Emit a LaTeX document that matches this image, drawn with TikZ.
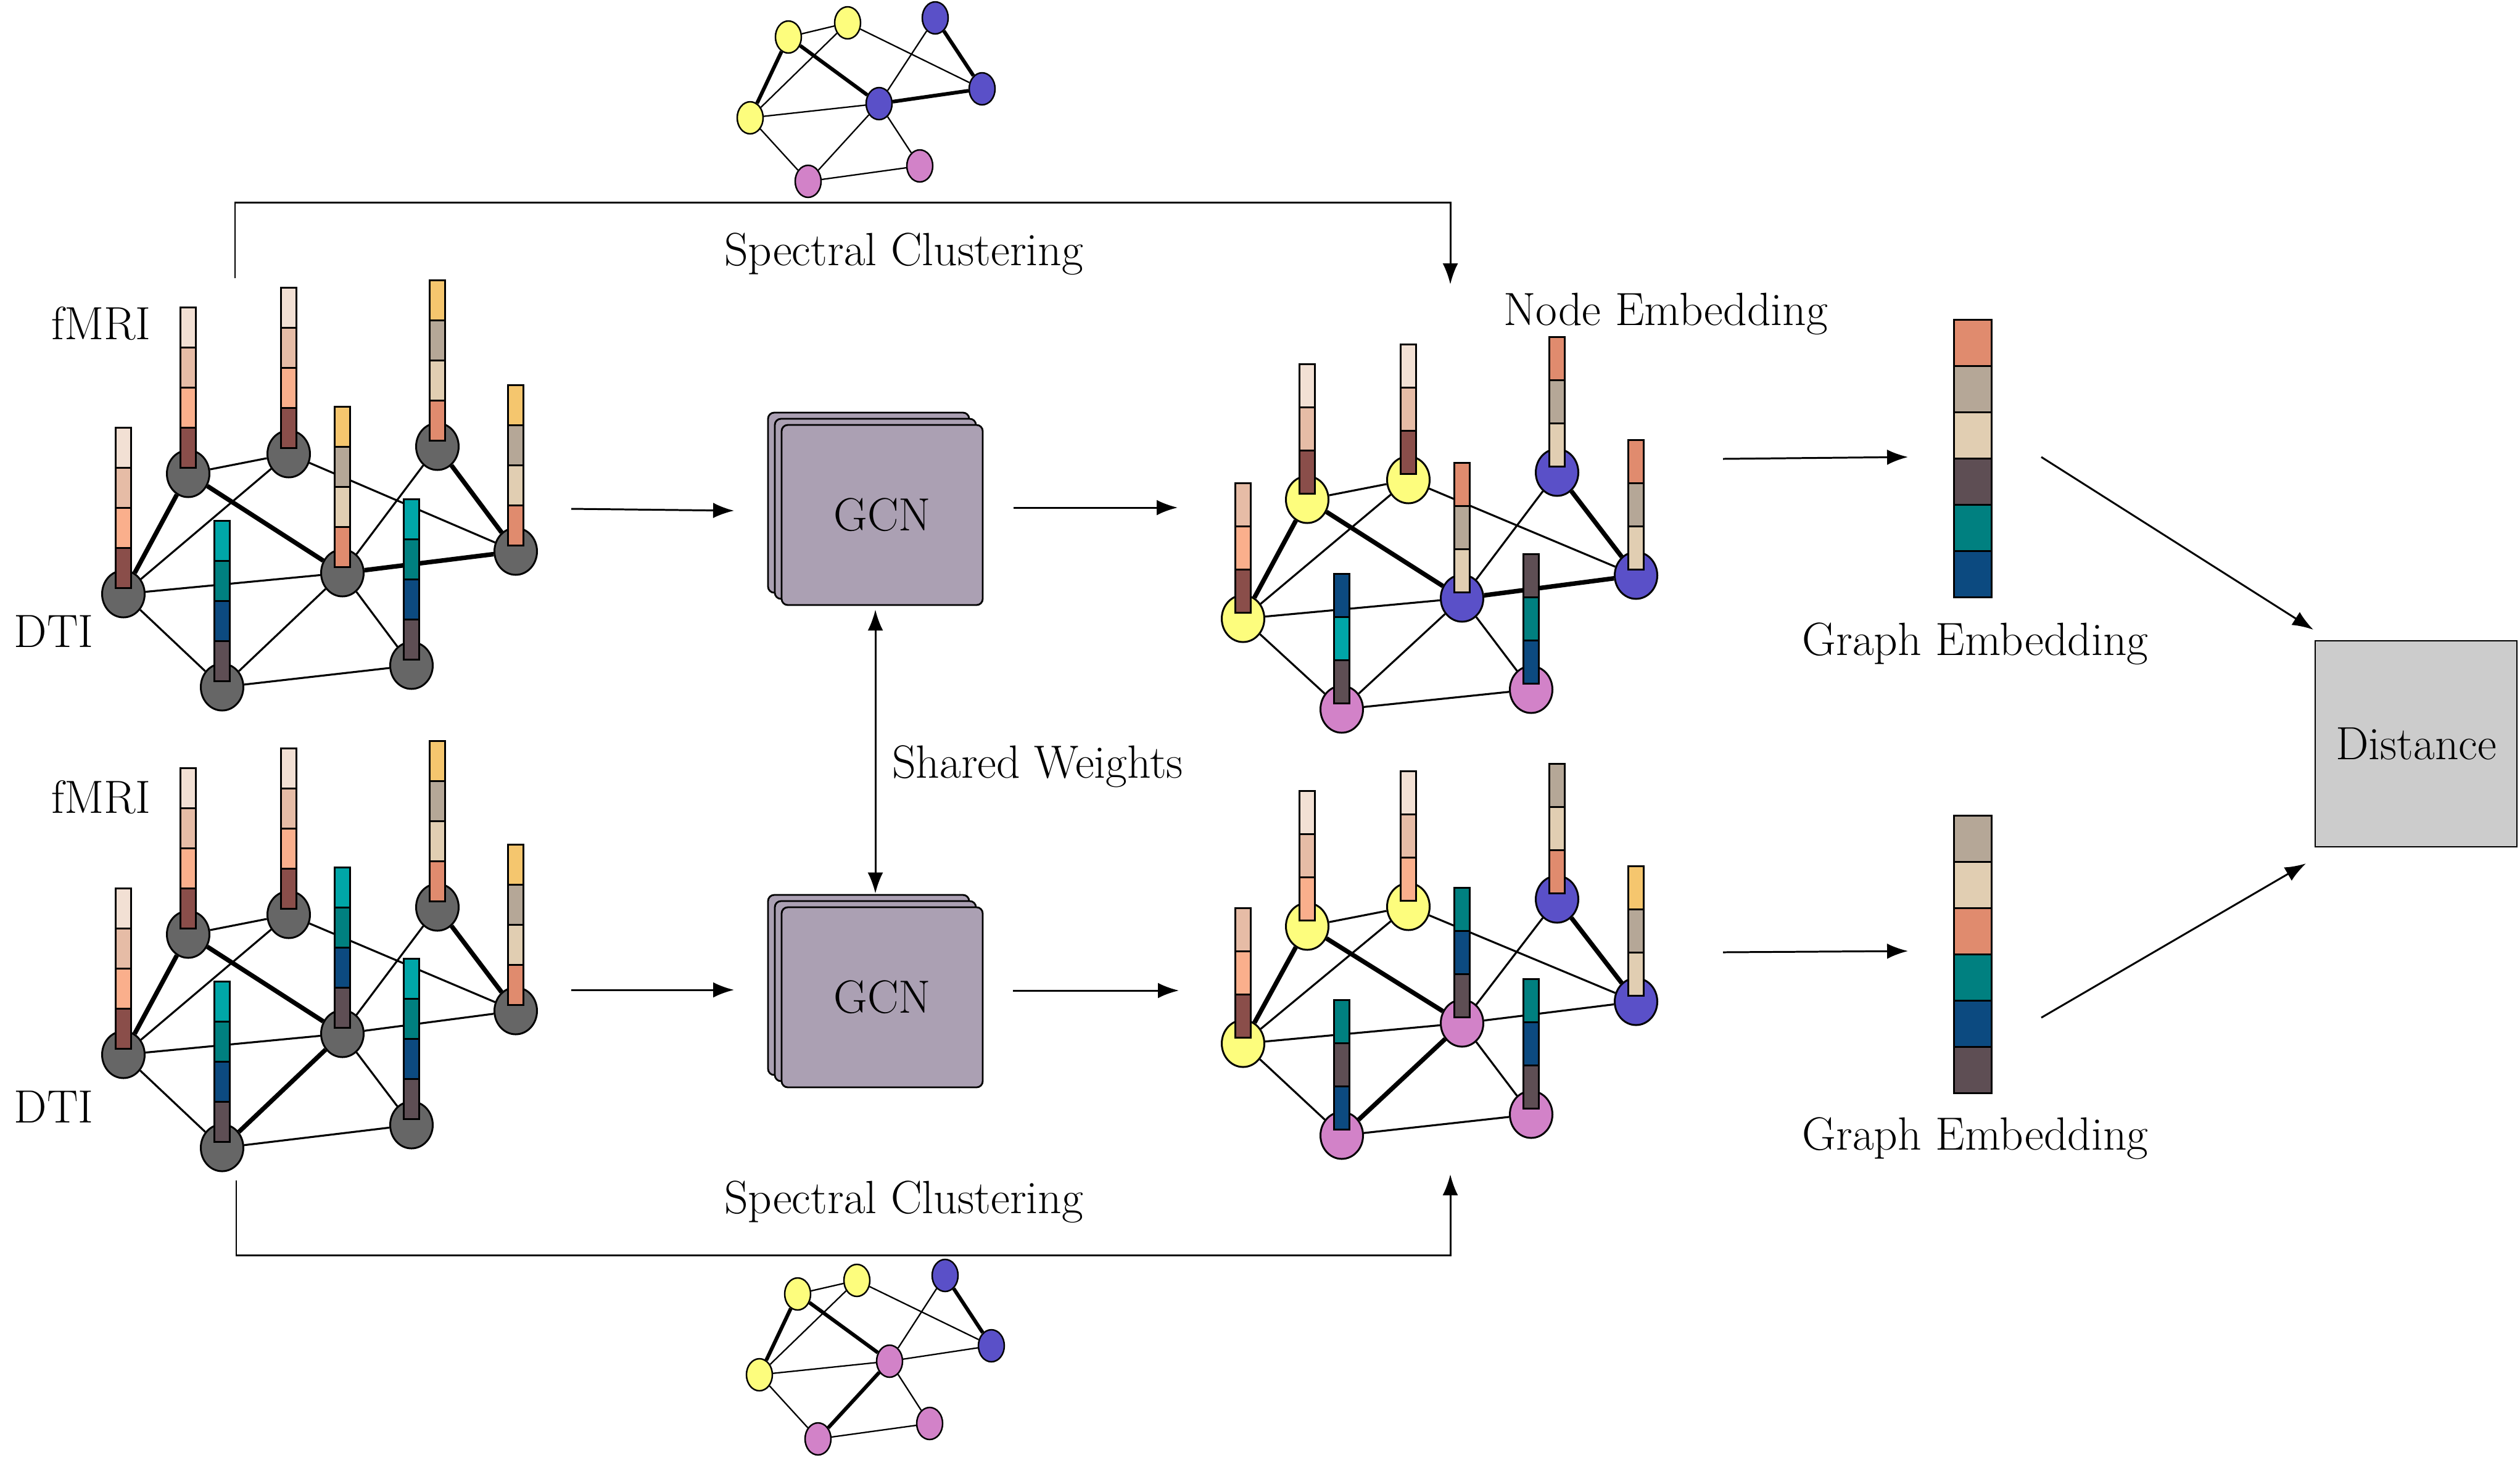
\documentclass[tikz,border=0pt]{standalone}
\usepackage{fontspec}
\usepackage{tikz}
\usetikzlibrary{positioning,arrows.meta,shapes.geometric,shadows}
\definecolor{roigray}{RGB}{102,102,102}
\definecolor{ylw}{RGB}{253,253,125}
\definecolor{blu}{RGB}{90,80,200}
\definecolor{pnk}{RGB}{210,130,200}
\definecolor{gcnfill}{RGB}{171,160,179}
\definecolor{distgray}{RGB}{204,204,204}
\definecolor{fmA}{RGB}{242,224,212}
\definecolor{fmB}{RGB}{230,188,166}
\definecolor{fmC}{RGB}{250,175,140}
\definecolor{fmD}{RGB}{138,78,74}
\definecolor{otA}{RGB}{245,198,110}
\definecolor{otB}{RGB}{181,167,151}
\definecolor{otC}{RGB}{225,206,178}
\definecolor{otD}{RGB}{224,139,110}
\definecolor{dtA}{RGB}{0,166,168}
\definecolor{dtB}{RGB}{0,128,128}
\definecolor{dtC}{RGB}{12,74,128}
\definecolor{dtD}{RGB}{94,78,84}

% feature bar standing on a node, colours listed top to bottom
\newcommand{\fourbar}[5]{%
  \draw[barseg,fill=#5] ([shift={(-0.125,0.10)}]#1.center) rectangle ++(0.25,0.65);
  \draw[barseg,fill=#4] ([shift={(-0.125,0.75)}]#1.center) rectangle ++(0.25,0.65);
  \draw[barseg,fill=#3] ([shift={(-0.125,1.40)}]#1.center) rectangle ++(0.25,0.65);
  \draw[barseg,fill=#2] ([shift={(-0.125,2.05)}]#1.center) rectangle ++(0.25,0.65);
}
\newcommand{\threebar}[4]{%
  \draw[barseg,fill=#4] ([shift={(-0.125,0.10)}]#1.center) rectangle ++(0.25,0.70);
  \draw[barseg,fill=#3] ([shift={(-0.125,0.80)}]#1.center) rectangle ++(0.25,0.70);
  \draw[barseg,fill=#2] ([shift={(-0.125,1.50)}]#1.center) rectangle ++(0.25,0.70);
}

\begin{document}
\begin{tikzpicture}[
  roi/.style={ellipse,draw,line width=0.85pt,inner sep=0pt,minimum width=0.69cm,minimum height=0.76cm},
  mini/.style={ellipse,draw,line width=0.7pt,inner sep=0pt,minimum width=0.42cm,minimum height=0.52cm},
  wlink/.style={line width=0.9pt},
  slink/.style={line width=2.1pt},
  barseg/.style={draw,line width=0.85pt},
  arr/.style={-{Latex[length=0.34cm,width=0.25cm]},line width=0.85pt},
  dblarr/.style={{Latex[length=0.34cm,width=0.25cm]}-{Latex[length=0.34cm,width=0.25cm]},line width=0.85pt},
  lbl/.style={font=\fontsize{21.5}{26}\selectfont,inner sep=0pt},
  gcn/.style={draw,line width=0.8pt,fill=gcnfill,rounded corners=0.1cm,
    minimum width=3.26cm,minimum height=2.92cm,font=\fontsize{21.5}{26}\selectfont,
    double copy shadow={shadow xshift=-0.11cm,shadow yshift=0.10cm}},
]
\useasboundingbox (0,0) rectangle (40.85,-23.63);

% input graphs
\node[roi,fill=roigray] (tlA) at (2.00,-9.63) {};
\node[roi,fill=roigray] (tlB) at (3.05,-7.68) {};
\node[roi,fill=roigray] (tlC) at (4.68,-7.36) {};
\node[roi,fill=roigray] (tlD) at (5.55,-9.29) {};
\node[roi,fill=roigray] (tlE) at (7.09,-7.24) {};
\node[roi,fill=roigray] (tlF) at (8.36,-8.94) {};
\node[roi,fill=roigray] (tlG) at (3.60,-11.14) {};
\node[roi,fill=roigray] (tlH) at (6.67,-10.79) {};
\draw[wlink] (tlA)--(tlC) (tlA)--(tlD) (tlA)--(tlG) (tlB)--(tlC) (tlC)--(tlF)
  (tlD)--(tlE) (tlD)--(tlG) (tlD)--(tlH) (tlG)--(tlH);
\draw[slink] (tlA)--(tlB) (tlB)--(tlD) (tlD)--(tlF) (tlE)--(tlF);

\node[roi,fill=roigray] (blA) at (2.00,-17.10) {};
\node[roi,fill=roigray] (blB) at (3.05,-15.15) {};
\node[roi,fill=roigray] (blC) at (4.68,-14.83) {};
\node[roi,fill=roigray] (blD) at (5.55,-16.76) {};
\node[roi,fill=roigray] (blE) at (7.09,-14.71) {};
\node[roi,fill=roigray] (blF) at (8.36,-16.39) {};
\node[roi,fill=roigray] (blG) at (3.60,-18.61) {};
\node[roi,fill=roigray] (blH) at (6.67,-18.24) {};
\draw[wlink] (blA)--(blC) (blA)--(blD) (blA)--(blG) (blB)--(blC) (blC)--(blF)
  (blD)--(blE) (blD)--(blF) (blD)--(blH) (blG)--(blH);
\draw[slink] (blA)--(blB) (blB)--(blD) (blD)--(blG) (blE)--(blF);

\fourbar{tlA}{fmA}{fmB}{fmC}{fmD}
\fourbar{tlB}{fmA}{fmB}{fmC}{fmD}
\fourbar{tlC}{fmA}{fmB}{fmC}{fmD}
\fourbar{tlD}{otA}{otB}{otC}{otD}
\fourbar{tlE}{otA}{otB}{otC}{otD}
\fourbar{tlF}{otA}{otB}{otC}{otD}
\fourbar{tlG}{dtA}{dtB}{dtC}{dtD}
\fourbar{tlH}{dtA}{dtB}{dtC}{dtD}

\fourbar{blA}{fmA}{fmB}{fmC}{fmD}
\fourbar{blB}{fmA}{fmB}{fmC}{fmD}
\fourbar{blC}{fmA}{fmB}{fmC}{fmD}
\fourbar{blD}{dtA}{dtB}{dtC}{dtD}
\fourbar{blE}{otA}{otB}{otC}{otD}
\fourbar{blF}{otA}{otB}{otC}{otD}
\fourbar{blG}{dtA}{dtB}{dtC}{dtD}
\fourbar{blH}{dtA}{dtB}{dtC}{dtD}

\node[lbl,anchor=base] (fmriT) at (1.64,-5.50) {fMRI};
\node[lbl,anchor=base] (dtiT) at (0.87,-10.49) {DTI};
\node[lbl,anchor=base] (fmriB) at (1.64,-13.18) {fMRI};
\node[lbl,anchor=base] (dtiB) at (0.87,-18.20) {DTI};

% clustered graphs
\node[roi,fill=ylw] (trA) at (20.15,-10.03) {};
\node[roi,fill=ylw] (trB) at (21.19,-8.10) {};
\node[roi,fill=ylw] (trC) at (22.83,-7.78) {};
\node[roi,fill=blu] (trD) at (23.70,-9.70) {};
\node[roi,fill=blu] (trE) at (25.24,-7.66) {};
\node[roi,fill=blu] (trF) at (26.52,-9.33) {};
\node[roi,fill=pnk] (trG) at (21.75,-11.50) {};
\node[roi,fill=pnk] (trH) at (24.82,-11.18) {};
\draw[wlink] (trA)--(trC) (trA)--(trD) (trA)--(trG) (trB)--(trC) (trC)--(trF)
  (trD)--(trE) (trD)--(trG) (trD)--(trH) (trG)--(trH);
\draw[slink] (trA)--(trB) (trB)--(trD) (trD)--(trF) (trE)--(trF);

\node[roi,fill=ylw] (brA) at (20.15,-16.92) {};
\node[roi,fill=ylw] (brB) at (21.19,-15.02) {};
\node[roi,fill=ylw] (brC) at (22.83,-14.70) {};
\node[roi,fill=pnk] (brD) at (23.70,-16.59) {};
\node[roi,fill=blu] (brE) at (25.24,-14.58) {};
\node[roi,fill=blu] (brF) at (26.52,-16.24) {};
\node[roi,fill=pnk] (brG) at (21.75,-18.41) {};
\node[roi,fill=pnk] (brH) at (24.82,-18.07) {};
\draw[wlink] (brA)--(brC) (brA)--(brD) (brA)--(brG) (brB)--(brC) (brC)--(brF)
  (brD)--(brE) (brD)--(brF) (brD)--(brH) (brG)--(brH);
\draw[slink] (brA)--(brB) (brB)--(brD) (brD)--(brG) (brE)--(brF);

\threebar{trA}{fmB}{fmC}{fmD}
\threebar{trB}{fmA}{fmB}{fmD}
\threebar{trC}{fmA}{fmB}{fmD}
\threebar{trD}{otD}{otB}{otC}
\threebar{trE}{otD}{otB}{otC}
\threebar{trF}{otD}{otB}{otC}
\threebar{trG}{dtC}{dtA}{dtD}
\threebar{trH}{dtD}{dtB}{dtC}

\threebar{brA}{fmB}{fmC}{fmD}
\threebar{brB}{fmA}{fmB}{fmC}
\threebar{brC}{fmA}{fmB}{fmC}
\threebar{brD}{dtB}{dtC}{dtD}
\threebar{brE}{otB}{otC}{otD}
\threebar{brF}{otA}{otB}{otC}
\threebar{brG}{dtB}{dtD}{dtC}
\threebar{brH}{dtB}{dtC}{dtD}

\node[lbl,anchor=base] (nodeEmb) at (27.00,-5.27) {Node Embedding};

% spectral clustering sketches
\begin{scope}[wlink/.style={line width=0.65pt},slink/.style={line width=1.7pt}]
\node[mini,fill=ylw] (tcA) at (12.16,-1.91) {};
\node[mini,fill=ylw] (tcB) at (12.78,-0.60) {};
\node[mini,fill=ylw] (tcC) at (13.74,-0.37) {};
\node[mini,fill=blu] (tcD) at (14.25,-1.68) {};
\node[mini,fill=blu] (tcE) at (15.16,-0.29) {};
\node[mini,fill=blu] (tcF) at (15.92,-1.44) {};
\node[mini,fill=pnk] (tcG) at (13.10,-2.94) {};
\node[mini,fill=pnk] (tcH) at (14.91,-2.69) {};
\draw[wlink] (tcA)--(tcC) (tcA)--(tcD) (tcA)--(tcG) (tcB)--(tcC) (tcC)--(tcF)
  (tcD)--(tcE) (tcD)--(tcG) (tcD)--(tcH) (tcG)--(tcH);
\draw[slink] (tcA)--(tcB) (tcB)--(tcD) (tcD)--(tcF) (tcE)--(tcF);

\node[mini,fill=ylw] (bcA) at (12.31,-22.29) {};
\node[mini,fill=ylw] (bcB) at (12.93,-20.98) {};
\node[mini,fill=ylw] (bcC) at (13.89,-20.76) {};
\node[mini,fill=pnk] (bcD) at (14.42,-22.07) {};
\node[mini,fill=blu] (bcE) at (15.32,-20.68) {};
\node[mini,fill=blu] (bcF) at (16.07,-21.82) {};
\node[mini,fill=pnk] (bcG) at (13.26,-23.33) {};
\node[mini,fill=pnk] (bcH) at (15.07,-23.08) {};
\draw[wlink] (bcA)--(bcC) (bcA)--(bcD) (bcA)--(bcG) (bcB)--(bcC) (bcC)--(bcF)
  (bcD)--(bcE) (bcD)--(bcF) (bcD)--(bcH) (bcG)--(bcH);
\draw[slink] (bcA)--(bcB) (bcB)--(bcD) (bcD)--(bcG) (bcE)--(bcF);
\end{scope}

\coordinate (scTs) at (3.81,-4.51);
\coordinate (scTc) at (23.51,-3.28);
\coordinate (scTe) at (23.51,-4.61);
\draw[arr] (scTs) |- (scTc) -- (scTe);
\node[lbl,anchor=base] (scTlbl) at (14.65,-4.30) {Spectral Clustering};

\coordinate (scBs) at (3.83,-19.14);
\coordinate (scBc) at (23.51,-20.35);
\coordinate (scBe) at (23.51,-19.04);
\draw[arr] (scBs) |- (scBc) -- (scBe);
\node[lbl,anchor=base] (scBlbl) at (14.65,-19.67) {Spectral Clustering};

% siamese GCN
\node[gcn] (gcnT) at (14.30,-8.35) {GCN};
\node[gcn] (gcnB) at (14.30,-16.17) {GCN};
\draw[dblarr] ([xshift=-0.11cm,yshift=-0.06cm]gcnT.south)
  -- ([xshift=-0.11cm,yshift=0.21cm]gcnB.north);
\node[lbl,anchor=base] (shared) at (16.82,-12.61) {Shared Weights};

\coordinate (tlOut) at (9.26,-8.25);
\coordinate (gcnTin) at (11.90,-8.28);
\coordinate (gcnTout) at (16.43,-8.23);
\coordinate (trIn) at (19.09,-8.23);
\draw[arr] (tlOut) -- (gcnTin);
\draw[arr] (gcnTout) -- (trIn);
\coordinate (blOut) at (9.26,-16.05);
\coordinate (gcnBin) at (11.90,-16.05);
\coordinate (gcnBout) at (16.42,-16.06);
\coordinate (brIn) at (19.11,-16.06);
\draw[arr] (blOut) -- (gcnBin);
\draw[arr] (gcnBout) -- (brIn);

% graph embeddings
\draw[barseg,fill=otD] (31.67,-5.18) rectangle (32.28,-5.93);
\draw[barseg,fill=otB] (31.67,-5.93) rectangle (32.28,-6.68);
\draw[barseg,fill=otC] (31.67,-6.68) rectangle (32.28,-7.43);
\draw[barseg,fill=dtD] (31.67,-7.43) rectangle (32.28,-8.18);
\draw[barseg,fill=dtB] (31.67,-8.18) rectangle (32.28,-8.93);
\draw[barseg,fill=dtC] (31.67,-8.93) rectangle (32.28,-9.68);
\node[lbl,anchor=base] (gembT) at (32.02,-10.62) {Graph Embedding};

\draw[barseg,fill=otB] (31.67,-13.22) rectangle (32.28,-13.97);
\draw[barseg,fill=otC] (31.67,-13.97) rectangle (32.28,-14.72);
\draw[barseg,fill=otD] (31.67,-14.72) rectangle (32.28,-15.47);
\draw[barseg,fill=dtB] (31.67,-15.47) rectangle (32.28,-16.22);
\draw[barseg,fill=dtC] (31.67,-16.22) rectangle (32.28,-16.97);
\draw[barseg,fill=dtD] (31.67,-16.97) rectangle (32.28,-17.72);
\node[lbl,anchor=base] (gembB) at (32.02,-18.64) {Graph Embedding};

\coordinate (trOut) at (27.93,-7.44);
\coordinate (embTin) at (30.93,-7.41);
\coordinate (brOut) at (27.93,-15.44);
\coordinate (embBin) at (30.93,-15.42);
\draw[arr] (trOut) -- (embTin);
\draw[arr] (brOut) -- (embBin);

\node[draw,line width=0.8pt,fill=distgray,minimum width=3.27cm,minimum height=3.34cm,
  font=\fontsize{21.5}{26}\selectfont] (dist) at (39.165,-12.06) {Distance};
\coordinate (embTout) at (33.09,-7.41);
\coordinate (embBout) at (33.09,-16.50);
\coordinate (distTin) at (37.50,-10.21);
\coordinate (distBin) at (37.38,-14.00);
\draw[arr] (embTout) -- (distTin);
\draw[arr] (embBout) -- (distBin);
\end{tikzpicture}
\end{document}
